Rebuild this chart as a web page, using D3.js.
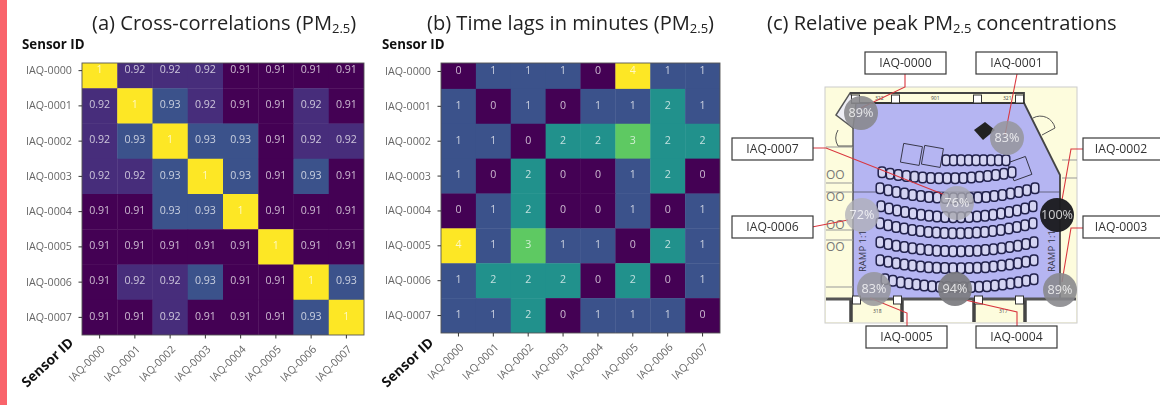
<!DOCTYPE html>
<html><head><meta charset="utf-8">
<script src="https://cdn.jsdelivr.net/npm/d3@7"></script>
<style>
html,body{margin:0;padding:0;background:#fff;overflow:hidden}
svg{display:block}
text{font-family:"Open Sans",sans-serif}
.soft{filter:blur(.55px)}
</style></head><body>
<svg id="c" width="1160" height="405"></svg>
<script>
const sensors=["IAQ-0000","IAQ-0001","IAQ-0002","IAQ-0003","IAQ-0004","IAQ-0005","IAQ-0006","IAQ-0007"];
const corr=[
[1,.92,.92,.92,.91,.91,.91,.91],
[.92,1,.93,.92,.91,.91,.92,.91],
[.92,.93,1,.93,.93,.91,.92,.92],
[.92,.92,.93,1,.93,.91,.93,.91],
[.91,.91,.93,.93,1,.91,.91,.91],
[.91,.91,.91,.91,.91,1,.91,.91],
[.91,.92,.92,.93,.91,.91,1,.93],
[.91,.91,.92,.91,.91,.91,.93,1]];
const lags=[
[0,1,1,1,0,4,1,1],
[1,0,1,0,1,1,2,1],
[1,1,0,2,2,3,2,2],
[1,0,2,0,0,1,2,0],
[0,1,2,0,0,1,0,1],
[4,1,3,1,1,0,2,1],
[1,2,2,2,0,2,0,1],
[1,1,2,0,1,1,1,0]];
const peaks=[89,83,100,89,94,83,72,76];
const peakX=[861,1007,1057,1060,955,874,862,957];
const peakY=[113,138,215,290,289,289,215,203];
const boxX=[865,976,1083,1083,976,866,732,732];
const boxY=[52,52,138,216,326,326,216,138];
const leaders=[
[[905,74],[905,87],[861,108]],
[[1017,74],[1005,135]],
[[1083,149],[1071,149],[1062,200]],
[[1083,228],[1071,228],[1062,282]],
[[1017,326],[1017,312],[965,300]],
[[907,326],[907,313],[870,298]],
[[812,227],[848,220]],
[[812,148],[826,148],[945,195]]];
const seatRowLeft=[946,882,880,881,880,880,880,885];
const seatRowRight=[1006,1012,1035,1033,1033,1034,1034,1034];
const seatRowEdge=[160,172,188,206,223,242,260,279];
const seatRowSag=[0,6,10,11,10,9,8,8];
const titles=[["(a) Cross-correlations (PM","2.5",")"],["(b) Time lags in minutes (PM","2.5",")"],["(c) Relative peak PM","2.5"," concentrations"]];
const titleX=[92,427,767];

const svg=d3.select("#c");
svg.append("rect").attr("x",0).attr("y",0).attr("width",7).attr("height",405).attr("fill","#f9646b");
const root=svg.append("g").attr("class","soft");
const defs=svg.append("defs");

titles.forEach((t,i)=>{
  const el=root.append("text").attr("x",titleX[i]).attr("y",30).attr("font-size",20.1).attr("fill","#222");
  el.append("tspan").text(t[0]);
  el.append("tspan").attr("font-size",13).attr("dy",3).text(t[1]);
  el.append("tspan").attr("dy",-3).text(t[2]);
});

function heat(id,matrix,x0,x1,yv,y0,y1,color,fmt,labelX,rotX,rotY){
  const g=root.append("g");
  const x=d3.scaleBand().domain(sensors).range([x0,x1]);
  const y=d3.scaleBand().domain(sensors).range([yv,y1]);
  defs.append("clipPath").attr("id",id).append("rect").attr("x",x0).attr("y",y0).attr("width",x1-x0).attr("height",y1-y0);
  const cg=g.append("g").attr("clip-path",`url(#${id})`);
  const cells=matrix.flatMap((r,i)=>r.map((v,j)=>({v,i,j})));
  cg.selectAll("rect.c").data(cells).join("rect").attr("class","c")
    .attr("x",d=>x(sensors[d.j])).attr("y",d=>y(sensors[d.i]))
    .attr("width",x.bandwidth()+.4).attr("height",y.bandwidth()+.4)
    .attr("fill",d=>color(d.v));
  g.selectAll("text.v").data(cells).join("text").attr("class","v")
    .attr("x",d=>x(sensors[d.j])+x.bandwidth()/2)
    .attr("y",d=>y(sensors[d.i])+y.bandwidth()/2-.5)
    .attr("text-anchor","middle").attr("dominant-baseline","middle")
    .attr("font-family","DejaVu Sans").attr("font-size",10.6)
    .attr("fill","#fff").attr("fill-opacity",d=>color(d.v)==="rgb(253, 231, 37)"?.4:.72).text(d=>fmt(d.v));
  g.append("rect").attr("x",x0).attr("y",y0).attr("width",x1-x0).attr("height",y1-y0)
    .attr("fill","none").attr("stroke","#555").attr("stroke-width",.9);
  const ax=g.append("g").attr("transform",`translate(${x0},0)`).call(d3.axisLeft(y).tickSize(3.5).tickPadding(6.5).tickSizeOuter(0));
  const bx=g.append("g").attr("transform",`translate(0,${y1})`).call(d3.axisBottom(x).tickSize(3.5).tickSizeOuter(0));
  [ax,bx].forEach(a=>{a.select(".domain").remove();a.selectAll("line").attr("stroke","#333");
    a.selectAll("text").attr("font-family","DejaVu Sans").attr("font-size",10.7).attr("fill","#666");});
  bx.selectAll("text").attr("text-anchor","end").attr("dx",0).attr("dy",0)
    .attr("transform","translate(6,15) rotate(-45)").attr("y",0).attr("x",0);
  g.append("text").attr("x",labelX).attr("y",49).attr("font-size",13.3).attr("font-weight",700).attr("fill","#111").text("Sensor ID");
  g.append("text").attr("transform",`translate(${rotX},${rotY}) rotate(-43)`).attr("font-size",13.8).attr("font-weight",700).attr("fill","#111").text("Sensor ID");
}
heat("ca",corr,82,364,53,63,335,d3.scaleSequential(d3.interpolateViridis).domain([.91,.99]).clamp(true),d=>d===1?"1":String(d),22,27,388);
heat("cb",lags,441,720,54,63,333,d3.scaleSequential(d3.interpolateViridis).domain([0,4]),d=>String(d),382,387,388);

/* floor plan */
const p=root.append("g");
const line=d3.line();
p.append("rect").attr("x",825).attr("y",87).attr("width",252).attr("height",236).attr("fill","#fdfcdd").attr("stroke","#ccc");
p.append("rect").attr("x",826).attr("y",300).attr("width",250).attr("height",22).attr("fill","#fff");
[[851,51],[974,51]].forEach(r=>{
  p.append("rect").attr("x",r[0]).attr("y",300).attr("width",r[1]).attr("height",22).attr("fill","#fdfcdd");
  p.append("path").attr("d",line([[r[0],322],[r[0],300]])).attr("stroke","#444").attr("stroke-width",3.5);
  p.append("path").attr("d",line([[r[0]+r[1],322],[r[0]+r[1],300]])).attr("stroke","#444").attr("stroke-width",3.5);
});
p.append("path").attr("d",line([[853,103],[1025,103],[1060,175],[1060,298],[853,298]])+"Z").attr("fill","#b5b5f2");
p.append("path").attr("d",line([[836,115],[850,93],[856,103],[853,128]])+"Z").attr("fill","#eeeef5").attr("stroke","#555").attr("stroke-width",1.4);
p.append("path").attr("d",line([[850,93],[1024,93],[1024,103],[1060,175],[1060,298]])).attr("fill","none").attr("stroke","#444").attr("stroke-width",1.8);
p.append("path").attr("d",line([[851,103],[1025,103]])).attr("stroke","#333").attr("stroke-width",2.2);
p.append("path").attr("d",line([[853,128],[853,298]])).attr("stroke","#555").attr("stroke-width",1.5);
p.append("path").attr("d",line([[826,299],[1076,299]])).attr("stroke","#555").attr("stroke-width",2.8);
p.append("path").attr("d",line([[853,192],[1060,192]])).attr("stroke","#445").attr("stroke-width",.7);
[[826,147],[826,183],[826,192],[826,230],[826,240],[826,287]].forEach(a=>p.append("path").attr("d",line([a,[853,a[1]]])).attr("stroke","#999").attr("stroke-width",1));
p.append("path").attr("d","M1033,118 A15,15 0 0 1 1055,128 L1042,135").attr("fill","none").attr("stroke","#555").attr("stroke-width",1);
p.append("path").attr("d","M838,130 A16,16 0 0 0 838,146 L853,146").attr("fill","none").attr("stroke","#555").attr("stroke-width",1);
p.append("path").attr("d",line([[1062,160],[1077,160]])).attr("stroke","#999").attr("stroke-width",1);
p.append("path").attr("d",line([[1062,178],[1077,178]])).attr("stroke","#999").attr("stroke-width",1);
[[855,99],[895,99],[977,99],[1019,99],[856,300],[897,300],[978,300],[1019,300]].forEach(a=>
  p.append("rect").attr("x",a[0]-3.5).attr("y",a[1]-4).attr("width",8).attr("height",8).attr("fill","#fff").attr("stroke","#333"));
p.selectAll("text.o").data([175,197,225,247]).join("text").attr("x",826).attr("y",d=>d+4).attr("font-size",12).attr("fill","#777").text("OO");
p.append("text").attr("transform","translate(866,272) rotate(-90)").attr("font-size",9.5).attr("fill","#334").text("RAMP 1:1");
p.append("text").attr("transform","translate(1055,272) rotate(-90)").attr("font-size",9.5).attr("fill","#334").text("RAMP 1:1");
[["901",931],["321",1003],["322",875],["318",873],["317",999]].forEach((a,i)=>
  p.append("text").attr("x",a[1]).attr("y",i<3?100:313).attr("font-size",5).attr("fill","#444").text(a[0]));
p.append("path").attr("d",line([[974,130],[985,122],[995,130],[983,140]])+"Z").attr("fill","#222");
[[912,154],[933,156],[1020,168]].forEach(a=>p.append("rect").attr("x",a[0]-10).attr("y",a[1]-9).attr("width",19).attr("height",19)
  .attr("fill","none").attr("stroke","#334").attr("stroke-width",.9).attr("transform",`rotate(${a[0]>1000?-20:10} ${a[0]} ${a[1]})`));
seatRowEdge.forEach((ye,i)=>{
  const l=seatRowLeft[i],r=seatRowRight[i],n=Math.round((r-l)/8);
  const pts=d3.range(n+1).map(k=>{const t=k/n;return {x:l+(r-l)*t,y:ye+seatRowSag[i]*(1-Math.pow(2*t-1,2))};});
  const g=p.append("g");
  g.selectAll("rect.s").data(pts).join("rect").attr("class","s").attr("x",d=>d.x-3.8).attr("y",d=>d.y-5)
    .attr("width",7.6).attr("height",10.5).attr("rx",3).attr("fill","#d4d4f2").attr("stroke","#22224c").attr("stroke-width",1.5);
});
leaders.forEach(l=>p.append("path").attr("d",line(l)).attr("fill","none").attr("stroke","#d9363e").attr("stroke-width",1.1));
const shade=d3.scaleLinear().domain([72,94,100]).range(["#b0b0b8","#7c7c80","#1c1c20"]);
const alpha=d3.scaleLinear().domain([72,100]).range([.78,.97]);
peaks.forEach((v,i)=>{
  p.append("circle").attr("cx",peakX[i]).attr("cy",peakY[i]).attr("r",17).attr("fill",shade(v)).attr("fill-opacity",alpha(v));
  p.append("text").attr("x",peakX[i]).attr("y",peakY[i]+.5).attr("text-anchor","middle").attr("dominant-baseline","middle")
    .attr("font-size",12.6).attr("fill","#fff").attr("fill-opacity",.78).text(v+"%");
});
sensors.forEach((s,i)=>{
  const w=boxX[i]===1083?80:81;
  p.append("rect").attr("x",boxX[i]).attr("y",boxY[i]).attr("width",w).attr("height",22).attr("fill","#fff").attr("stroke","#3a3a3a").attr("stroke-width",1.2);
  p.append("text").attr("x",boxX[i]+(boxX[i]===1083?38:40.5)).attr("y",boxY[i]+11.5).attr("text-anchor","middle").attr("dominant-baseline","middle")
    .attr("font-size",12.2).attr("fill","#333").text(s);
});
</script></body></html>
